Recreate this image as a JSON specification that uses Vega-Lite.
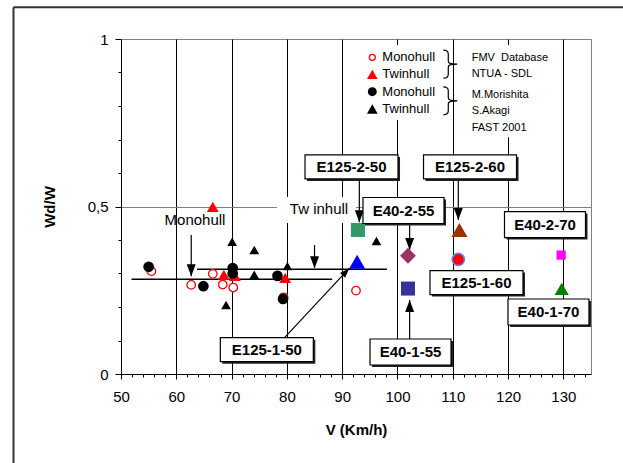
{
  "$schema": "https://vega.github.io/schema/vega-lite/v6.json",
  "width": 470,
  "height": 335,
  "autosize": "none",
  "padding": {"left": 121, "top": 39, "right": 32, "bottom": 89},
  "background": "white",
  "config": {
    "font": "Liberation Sans",
    "view": {"stroke": "#808080", "strokeWidth": 1},
    "axis": {
      "labelFontSize": 15,
      "labelColor": "black",
      "titleFontSize": 15,
      "titleFontWeight": "bold",
      "titleColor": "black",
      "domainColor": "black",
      "tickColor": "black",
      "domainWidth": 1,
      "tickWidth": 1,
      "labelFlush": false,
      "labelOverlap": false
    }
  },
  "datasets": {
    "obs": [
      {"series": "FMV Monohull", "V": 55.5, "W": 0.307},
      {"series": "FMV Monohull", "V": 62.7, "W": 0.266},
      {"series": "FMV Monohull", "V": 66.6, "W": 0.299},
      {"series": "FMV Monohull", "V": 68.4, "W": 0.267},
      {"series": "FMV Monohull", "V": 70.3, "W": 0.258},
      {"series": "FMV Monohull", "V": 79.4, "W": 0.229},
      {"series": "FMV Monohull", "V": 92.5, "W": 0.249},
      {"series": "FMV Twinhull", "V": 66.6, "W": 0.499},
      {"series": "FMV Twinhull", "V": 68.6, "W": 0.296},
      {"series": "FMV Twinhull", "V": 70.6, "W": 0.293},
      {"series": "FMV Twinhull", "V": 79.7, "W": 0.287},
      {"series": "Morishita Monohull", "V": 55.0, "W": 0.320},
      {"series": "Morishita Monohull", "V": 64.9, "W": 0.262},
      {"series": "Morishita Monohull", "V": 70.2, "W": 0.316},
      {"series": "Morishita Monohull", "V": 70.2, "W": 0.300},
      {"series": "Morishita Monohull", "V": 78.3, "W": 0.293},
      {"series": "Morishita Monohull", "V": 79.3, "W": 0.224},
      {"series": "Morishita Twinhull", "V": 70.1, "W": 0.395},
      {"series": "Morishita Twinhull", "V": 74.1, "W": 0.370},
      {"series": "Morishita Twinhull", "V": 74.1, "W": 0.296},
      {"series": "Morishita Twinhull", "V": 69.0, "W": 0.206},
      {"series": "Morishita Twinhull", "V": 80.1, "W": 0.322},
      {"series": "Morishita Twinhull", "V": 96.2, "W": 0.397}
    ],
    "models": [
      {"name": "E125-2-50", "V": 92.85, "W": 0.430},
      {"name": "E125-1-50", "V": 92.7, "W": 0.335},
      {"name": "E40-2-55", "V": 101.9, "W": 0.353},
      {"name": "E40-1-55", "V": 101.9, "W": 0.255},
      {"name": "E125-2-60", "V": 111.2, "W": 0.430},
      {"name": "E125-1-60", "V": 111.0, "W": 0.342},
      {"name": "E40-2-70", "V": 129.6, "W": 0.355},
      {"name": "E40-1-70", "V": 129.7, "W": 0.254}
    ],
    "callouts": [
      {"label": "E125-2-50", "V": 91.69, "W": 0.618},
      {"label": "E125-2-60", "V": 113.12, "W": 0.618},
      {"label": "E40-2-55", "V": 101.09, "W": 0.488},
      {"label": "E40-2-70", "V": 126.68, "W": 0.446},
      {"label": "E125-1-60", "V": 114.29, "W": 0.273},
      {"label": "E40-1-70", "V": 127.31, "W": 0.185},
      {"label": "E40-1-55", "V": 102.36, "W": 0.0657},
      {"label": "E125-1-50", "V": 76.37, "W": 0.0725}
    ],
    "arrows": [
      {"dir": "down", "V": 62.7, "W": 0.415, "V2": 62.7, "W2": 0.292},
      {"dir": "down", "V": 85.0, "W": 0.385, "V2": 85.0, "W2": 0.316},
      {"dir": "down", "V": 93.1, "W": 0.582, "V2": 93.1, "W2": 0.453},
      {"dir": "down", "V": 111.0, "W": 0.582, "V2": 111.0, "W2": 0.460},
      {"dir": "down", "V": 102.2, "W": 0.451, "V2": 102.2, "W2": 0.370},
      {"dir": "up", "V": 102.2, "W": 0.104, "V2": 102.2, "W2": 0.221},
      {"dir": "diag", "V": 79.5, "W": 0.107, "V2": 91.3, "W2": 0.316}
    ],
    "trends": [
      {"V": 51.9, "W": 0.283, "V2": 88.2, "W2": 0.283},
      {"V": 63.75, "W": 0.313, "V2": 98.1, "W2": 0.313}
    ],
    "masks": [
      {"V": 93.6, "V2": 109.1, "W": 0.982, "W2": 0.758},
      {"V": 110.95, "V2": 129.4, "W": 0.982, "W2": 0.707},
      {"V": 78.2, "V2": 92.5, "W": 0.528, "W2": 0.451}
    ],
    "frameSide": [
      {"V": 30.56, "W": 1.0946, "W2": -0.4}
    ],
    "frameTop": [
      {"V": 30.56, "V2": 145, "W": 1.0946}
    ],
    "keys": [
      {"series": "FMV Monohull", "text": "Monohull", "V": 95.45, "W": 0.9454},
      {"series": "FMV Twinhull", "text": "Twinhull", "V": 95.45, "W": 0.8946},
      {"series": "Morishita Monohull", "text": "Monohull", "V": 95.45, "W": 0.8427},
      {"series": "Morishita Twinhull", "text": "Twinhull", "V": 95.45, "W": 0.791}
    ],
    "sources": [
      {"text": "FMV\u00a0 Database", "V": 113.42, "W": 0.9424},
      {"text": "NTUA - SDL", "V": 113.42, "W": 0.8946},
      {"text": "M.Morishita", "V": 113.42, "W": 0.8328},
      {"text": "S.Akagi", "V": 113.42, "W": 0.785},
      {"text": "FAST 2001", "V": 113.42, "W": 0.7334}
    ],
    "braces": [
      {"V": 109.19, "W": 0.925},
      {"V": 109.19, "W": 0.8155}
    ],
    "notes": [
      {"text": "Monohull", "V": 63.38, "W": 0.46},
      {"text": "Tw inhull", "V": 85.81, "W": 0.4925}
    ]
  },
  "encoding": {
    "x": {
      "field": "V",
      "type": "quantitative",
      "scale": {"domain": [50, 135], "nice": false, "zero": false},
      "axis": {
        "title": "V (Km/h)",
        "orient": "bottom",
        "values": [50,52,54,56,58,60,62,64,66,68,70,72,74,76,78,80,82,84,86,88,90,92,94,96,98,100,102,104,106,108,110,112,114,116,118,120,122,124,126,128,130,132,134],
        "labelExpr": "datum.value % 10 === 0 ? datum.label : ''",
        "grid": true,
        "gridColor": "black",
        "gridWidth": 1,
        "gridOpacity": {"condition": {"test": "datum.value % 10 === 0 && datum.value > 50", "value": 1}, "value": 0},
        "tickSize": {"condition": {"test": "datum.value % 10 === 0", "value": 5}, "value": 3},
        "labelPadding": 10,
        "titlePadding": 18
      }
    },
    "y": {
      "field": "W",
      "type": "quantitative",
      "scale": {"domain": [0, 1], "nice": false, "zero": false},
      "axis": {
        "title": "Wd/W",
        "orient": "left",
        "values": [0, 0.1, 0.2, 0.3, 0.4, 0.5, 0.6, 0.7, 0.8, 0.9, 1],
        "labelExpr": "datum.value === 0.5 ? '0,5' : datum.value === 0 ? '0' : datum.value === 1 ? '1' : ''",
        "grid": true,
        "gridColor": "#808080",
        "gridOpacity": {"condition": {"test": "datum.value === 0.5", "value": 1}, "value": 0},
        "tickSize": {"condition": {"test": "datum.value === 0 || datum.value === 0.5 || datum.value === 1", "value": 6}, "value": 3},
        "labelPadding": 7,
        "titlePadding": 30
      }
    }
  },
  "layer": [
    {
      "data": {"name": "frameSide"},
      "mark": {"type": "rule", "stroke": "#333333", "strokeWidth": 2},
      "encoding": {"y2": {"field": "W2"}}
    },
    {
      "data": {"name": "frameTop"},
      "mark": {"type": "rule", "stroke": "#333333", "strokeWidth": 2},
      "encoding": {"x2": {"field": "V2"}}
    },
    {
      "data": {"name": "masks"},
      "mark": {"type": "rect", "fill": "white"},
      "encoding": {"x2": {"field": "V2"}, "y2": {"field": "W2"}}
    },
    {
      "data": {"name": "trends"},
      "mark": {"type": "rule", "stroke": "black", "strokeWidth": 1.5},
      "encoding": {"x2": {"field": "V2"}, "y2": {"field": "W2"}}
    },
    {
      "data": {"name": "arrows"},
      "mark": {"type": "rule", "stroke": "black", "strokeWidth": 1.2},
      "encoding": {"x2": {"field": "V2"}, "y2": {"field": "W2"}}
    },
    {
      "data": {"name": "arrows"},
      "transform": [{"filter": "datum.dir === 'down'"}],
      "mark": {"type": "point", "shape": "M-4.5,-12L4.5,-12L0,0Z", "size": 4, "filled": true, "fill": "black", "strokeWidth": 0, "opacity": 1},
      "encoding": {"x": {"field": "V2", "type": "quantitative"}, "y": {"field": "W2", "type": "quantitative"}}
    },
    {
      "data": {"name": "arrows"},
      "transform": [{"filter": "datum.dir === 'up'"}],
      "mark": {"type": "point", "shape": "M-4.5,-12L4.5,-12L0,0Z", "angle": 180, "size": 4, "filled": true, "fill": "black", "strokeWidth": 0, "opacity": 1},
      "encoding": {"x": {"field": "V2", "type": "quantitative"}, "y": {"field": "W2", "type": "quantitative"}}
    },
    {
      "data": {"name": "arrows"},
      "transform": [{"filter": "datum.dir === 'diag'"}],
      "mark": {"type": "point", "shape": "M-3.5,-10L3.5,-10L0,0Z", "angle": 223, "size": 4, "filled": true, "fill": "black", "strokeWidth": 0, "opacity": 1},
      "encoding": {"x": {"field": "V2", "type": "quantitative"}, "y": {"field": "W2", "type": "quantitative"}}
    },
    {
      "data": {"name": "obs"},
      "transform": [{"filter": "datum.series === 'FMV Monohull'"}],
      "mark": {"type": "point", "shape": "circle", "size": 72, "fill": "white", "filled": false, "stroke": "#ff0000", "strokeWidth": 1.3, "opacity": 1},
      "encoding": {}
    },
    {
      "data": {"name": "obs"},
      "transform": [{"filter": "datum.series === 'FMV Twinhull'"}],
      "mark": {"type": "point", "shape": "triangle-up", "size": 140, "filled": true, "fill": "#ff0000", "strokeWidth": 0, "opacity": 1},
      "encoding": {}
    },
    {
      "data": {"name": "obs"},
      "transform": [{"filter": "datum.series === 'Morishita Monohull'"}],
      "mark": {"type": "point", "shape": "circle", "size": 115, "filled": true, "fill": "black", "strokeWidth": 0, "opacity": 1},
      "encoding": {}
    },
    {
      "data": {"name": "obs"},
      "transform": [{"filter": "datum.series === 'Morishita Twinhull'"}],
      "mark": {"type": "point", "shape": "triangle-up", "size": 95, "filled": true, "fill": "black", "strokeWidth": 0, "opacity": 1},
      "encoding": {}
    },
    {
      "data": {"name": "models"},
      "mark": {"type": "point", "filled": true, "opacity": 1},
      "encoding": {
        "fill": {
          "field": "name", "type": "nominal", "legend": null,
          "scale": {
            "domain": ["E125-2-50", "E125-1-50", "E40-2-55", "E40-1-55", "E125-2-60", "E125-1-60", "E40-2-70", "E40-1-70"],
            "range": ["#339966", "#0000ff", "#993366", "#333399", "#993300", "#ff0000", "#ff00ff", "#008000"]
          }
        },
        "shape": {
          "field": "name", "type": "nominal", "legend": null,
          "scale": {
            "domain": ["E125-2-50", "E125-1-50", "E40-2-55", "E40-1-55", "E125-2-60", "E125-1-60", "E40-2-70", "E40-1-70"],
            "range": ["square", "triangle-up", "diamond", "square", "triangle-up", "circle", "square", "triangle-up"]
          }
        },
        "size": {
          "field": "name", "type": "nominal", "legend": null,
          "scale": {
            "type": "ordinal",
            "domain": ["E125-2-50", "E125-1-50", "E40-2-55", "E40-1-55", "E125-2-60", "E125-1-60", "E40-2-70", "E40-1-70"],
            "range": [196, 260, 250, 196, 260, 150, 85, 200]
          }
        },
        "stroke": {"condition": {"test": "datum.name === 'E125-1-60'", "value": "#5b8bf0"}, "value": null},
        "strokeWidth": {"condition": {"test": "datum.name === 'E125-1-60'", "value": 1.5}, "value": 0}
      }
    },
    {
      "data": {"name": "keys"},
      "transform": [{"filter": "datum.series === 'FMV Monohull'"}],
      "mark": {"type": "point", "shape": "circle", "size": 36, "fill": "white", "filled": false, "stroke": "#ff0000", "strokeWidth": 1.3, "opacity": 1},
      "encoding": {}
    },
    {
      "data": {"name": "keys"},
      "transform": [{"filter": "datum.series === 'FMV Twinhull'"}],
      "mark": {"type": "point", "shape": "triangle-up", "size": 115, "filled": true, "fill": "#ff0000", "strokeWidth": 0, "opacity": 1},
      "encoding": {}
    },
    {
      "data": {"name": "keys"},
      "transform": [{"filter": "datum.series === 'Morishita Monohull'"}],
      "mark": {"type": "point", "shape": "circle", "size": 80, "filled": true, "fill": "black", "strokeWidth": 0, "opacity": 1},
      "encoding": {}
    },
    {
      "data": {"name": "keys"},
      "transform": [{"filter": "datum.series === 'Morishita Twinhull'"}],
      "mark": {"type": "point", "shape": "triangle-up", "size": 115, "filled": true, "fill": "black", "strokeWidth": 0, "opacity": 1},
      "encoding": {}
    },
    {
      "data": {"name": "keys"},
      "mark": {"type": "text", "align": "left", "baseline": "middle", "fontSize": 13, "color": "black", "dx": 10},
      "encoding": {"text": {"field": "text"}}
    },
    {
      "data": {"name": "sources"},
      "mark": {"type": "text", "align": "left", "baseline": "middle", "fontSize": 11, "color": "black"},
      "encoding": {"text": {"field": "text"}}
    },
    {
      "data": {"name": "braces"},
      "mark": {"type": "point", "shape": "M-5,-14C-2,-14 0,-13 0,-10L0,-3C0,-1 2,0 9,0C2,0 0,1 0,3L0,10C0,13 -2,14 -5,14", "size": 4, "filled": false, "stroke": "black", "strokeWidth": 1.2, "opacity": 1},
      "encoding": {}
    },
    {
      "data": {"name": "notes"},
      "mark": {"type": "text", "align": "center", "baseline": "middle", "fontSize": 15, "color": "black"},
      "encoding": {"text": {"field": "text"}}
    },
    {
      "data": {"name": "callouts"},
      "mark": {"type": "point", "size": 4, "filled": true, "fill": "#222222", "strokeWidth": 0, "opacity": 1, "xOffset": 2, "yOffset": 2},
      "encoding": {
        "shape": {"condition": {"test": "length(datum.label) > 8", "value": "M-46.5,-12H46.5V12H-46.5Z"}, "value": "M-40.5,-13H40.5V13H-40.5Z"}
      }
    },
    {
      "data": {"name": "callouts"},
      "mark": {"type": "point", "size": 4, "filled": true, "fill": "white", "stroke": "black", "strokeWidth": 1.2, "opacity": 1},
      "encoding": {
        "shape": {"condition": {"test": "length(datum.label) > 8", "value": "M-46.5,-12H46.5V12H-46.5Z"}, "value": "M-40.5,-13H40.5V13H-40.5Z"}
      }
    },
    {
      "data": {"name": "callouts"},
      "mark": {"type": "text", "align": "center", "baseline": "middle", "fontSize": 15, "fontWeight": "bold", "color": "black"},
      "encoding": {"text": {"field": "label"}}
    }
  ]
}
